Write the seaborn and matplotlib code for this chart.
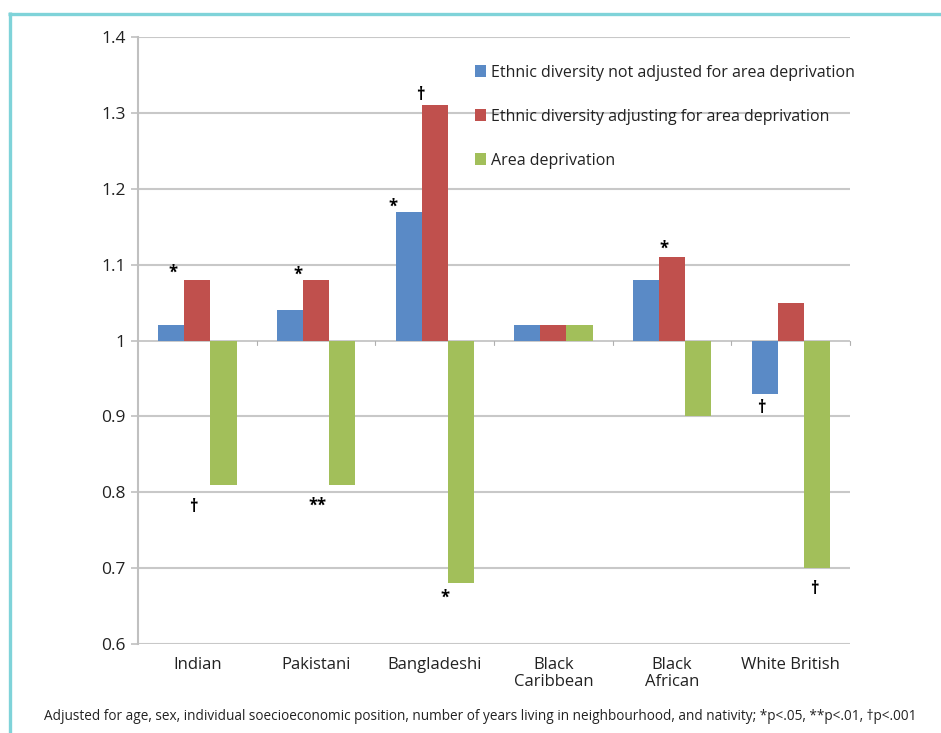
import matplotlib
matplotlib.use("Agg")
import matplotlib.pyplot as plt
from matplotlib.lines import Line2D
from matplotlib.patches import Patch
import seaborn as sns
import pandas as pd

# Odds ratios by ethnic group (baseline 1 = no effect)
groups = ["Indian", "Pakistani", "Bangladeshi", "Black\nCaribbean", "Black\nAfrican", "White British"]
series = [
    "Ethnic diversity not adjusted for area deprivation",
    "Ethnic diversity adjusting for area deprivation",
    "Area deprivation",
]
not_adjusted = [1.02, 1.04, 1.17, 1.02, 1.08, 0.93]
adjusted = [1.08, 1.08, 1.31, 1.02, 1.11, 1.05]
deprivation = [0.81, 0.81, 0.68, 1.02, 0.90, 0.70]

# Significance markers: (group index, series index, symbol)
markers = [
    (0, 1, "*"), (0, 2, "†"),
    (1, 1, "*"), (1, 2, "**"),
    (2, 0, "*"), (2, 1, "†"), (2, 2, "*"),
    (4, 1, "*"),
    (5, 0, "†"), (5, 2, "†"),
]
# marker placement relative to the bar end, in pixels (dx, dy)
marker_nudge = [
    (-24, 7), (-30, -22),
    (-18, 5), (-25, -21),
    (-16, 5), (-14, 10), (-16, -14),
    (-8, 8),
    (-3, -14), (-2, -21),
]

colors = ["#5a8ac6", "#c0504d", "#a2bf5a"]
baseline = 1.0

rows = []
for g, a, b, c in zip(groups, not_adjusted, adjusted, deprivation):
    for s, v in zip(series, (a, b, c)):
        rows.append({"group": g, "series": s, "value": v, "height": v - baseline})
df = pd.DataFrame(rows)

sns.set_theme(style="white")
plt.rcParams["font.family"] = ["Open Sans", "DejaVu Sans"]

fig = plt.figure(figsize=(9.41, 7.33), dpi=100)
ax = fig.add_axes([0.1467, 0.1214, 0.9033 - 0.1467, 0.9495 - 0.1214])

sns.barplot(data=df, x="group", y="height", hue="series", order=groups,
            hue_order=series, palette=colors, width=0.66, bottom=baseline,
            saturation=1, linewidth=0, ax=ax, legend=False, zorder=3)

ax.set_ylim(0.6, 1.4)
ax.set_xlim(-0.5, len(groups) - 0.5)
ax.set_yticks([0.6, 0.7, 0.8, 0.9, 1.0, 1.1, 1.2, 1.3, 1.4])
ax.set_yticklabels(["0.6", "0.7", "0.8", "0.9", "1", "1.1", "1.2", "1.3", "1.4"])
ax.set_xlabel("")
ax.set_ylabel("")

grid_color = "#c8c8c8"
for yv in [0.6, 0.7, 0.8, 0.9, 1.1, 1.2, 1.3, 1.4]:
    ax.axhline(yv, color=grid_color, lw=1.5, zorder=1)
# category axis crossing at 1
ax.axhline(baseline, color="#c0c0c0", lw=1.2, zorder=2)
for b in range(len(groups)):
    ax.plot([b + 0.5, b + 0.5], [baseline, baseline - 0.006], color="#b0b0b0", lw=0.8,
            zorder=2, clip_on=False)

for side in ["top", "right", "bottom"]:
    ax.spines[side].set_visible(False)
ax.spines["left"].set_color("#c0c0c0")
ax.spines["left"].set_linewidth(1.5)
ax.tick_params(axis="y", which="major", left=True, length=5, width=1.2, color="#c0c0c0",
               labelsize=12.5, labelcolor="#222222", pad=4)
ax.tick_params(axis="x", bottom=False, labelsize=12, labelcolor="#222222", pad=3)
for lbl in ax.get_xticklabels():
    lbl.set_linespacing(1.15)

# significance markers
n = len(series)
bw = 0.66 / n
vals = [not_adjusted, adjusted, deprivation]
for (gi, si, sym), (dx, dy) in zip(markers, marker_nudge):
    v = vals[si][gi]
    xc = gi - 0.66 / 2 + bw * (si + 0.5)
    ax.annotate(sym, xy=(xc, v), xytext=(dx * 0.72, dy * 0.72), textcoords="offset points",
                ha="center", va="center", fontsize=12, fontweight="bold",
                color="black", zorder=4)

handles = [Patch(facecolor=c, edgecolor="none") for c in colors]
leg = ax.legend(handles, series, loc="upper left", bbox_to_anchor=(0.4645, 0.965),
                frameon=False, fontsize=11.5, handlelength=0.7, handleheight=0.7,
                handletextpad=0.3, labelspacing=1.75, borderaxespad=0)
for t in leg.get_texts():
    t.set_color("#222222")

fig.text(0.5106, 0.012, "Adjusted for age, sex, individual soecioeconomic position, number of years "
         "living in neighbourhood, and nativity; *p<.05, **p<.01, †p<.001",
         ha="center", va="bottom", fontsize=9.8, color="#222222")

# cyan frame
frame = "#7fd3d9"
fig.add_artist(Line2D([9.5 / 941, 9.5 / 941], [0, 1 - 12 / 733], color=frame, lw=2.4,
                      solid_capstyle="butt", transform=fig.transFigure))
fig.add_artist(Line2D([8 / 941, 1], [1 - 13.5 / 733, 1 - 13.5 / 733], color=frame, lw=2.4,
                      solid_capstyle="butt", transform=fig.transFigure))

fig.savefig("out.png", dpi=100, facecolor="white")
